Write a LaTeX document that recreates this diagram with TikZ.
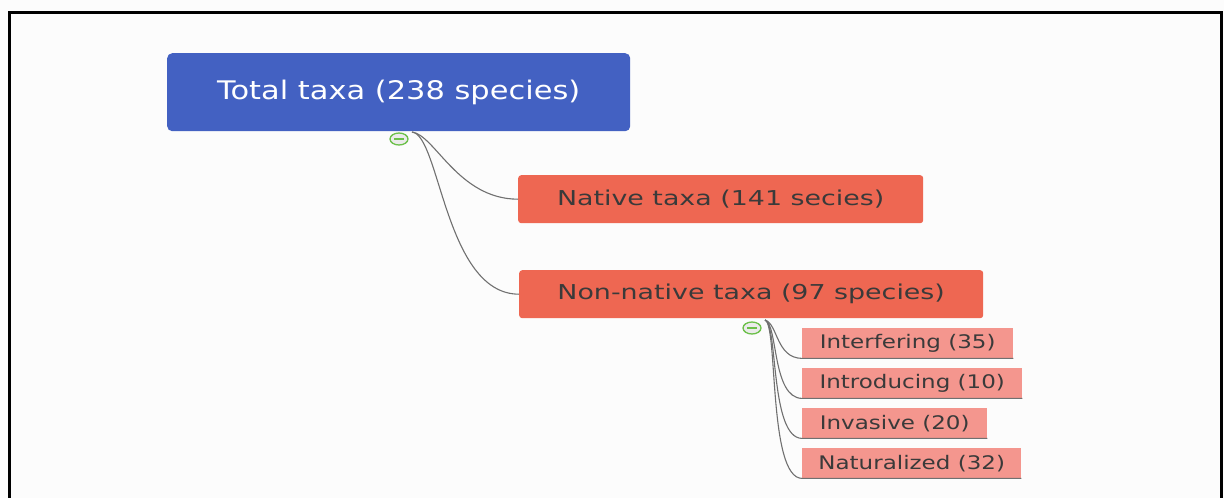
\documentclass[tikz,border=0pt]{standalone}
\usepackage{fontspec}
\setmainfont{DejaVu Sans}
\newfontfamily\rootfont[FakeStretch=1.19]{DejaVu Sans}
\newfontfamily\midfont[FakeStretch=1.31]{DejaVu Sans}
\newfontfamily\leaffont[FakeStretch=1.23]{DejaVu Sans}
\usetikzlibrary{shapes.geometric}
\definecolor{rootblue}{HTML}{4361C2}
\definecolor{midred}{HTML}{EE6752}
\definecolor{leafred}{HTML}{F4968E}
\definecolor{txtgray}{HTML}{3A3A3A}
\definecolor{linegray}{HTML}{707070}
\definecolor{mingreen}{HTML}{6CC04A}
\tikzset{
  rootbox/.style={fill=rootblue, rounded corners=5pt, text=white, font=\rootfont\fontsize{25.6}{30}\selectfont, minimum width=463pt, minimum height=78pt, inner sep=0pt},
  midbox/.style={fill=midred, rounded corners=3pt, text=txtgray, font=\midfont\fontsize{20.5}{25}\selectfont, minimum height=48pt, inner sep=0pt},
  leafbox/.style={fill=leafred, text=txtgray, font=\leaffont\fontsize{18.7}{22}\selectfont, minimum height=30pt, inner sep=0pt},
  conn/.style={draw=linegray, line width=1.1pt},
  minusicon/.style={ellipse, draw=mingreen, fill=black!8, line width=1.3pt, minimum width=18pt, minimum height=12pt, inner sep=0pt},
}
\begin{document}
\begin{tikzpicture}[x=1pt,y=-1pt]
\useasboundingbox (0,0) rectangle (1224,498);
\fill[white!99!black] (0,0) rectangle (1224,498);
\draw[line width=3pt, black] (9,505) -- (9,12) -- (1221,12) -- (1221,505);

\node[rootbox, anchor=north west] (root) at (167,53) {Total taxa (238 species)};
\node[midbox, anchor=north west, minimum width=405pt] (native) at (518,175) {Native taxa (141 secies)};
\node[midbox, anchor=north west, minimum width=464pt] (nonnative) at (519,270) {Non-native taxa (97 species)};

\node[leafbox, anchor=north west, minimum width=211pt] (l1) at (802,328) {Interfering (35)};
\node[leafbox, anchor=north west, minimum width=220pt] (l2) at (802,368) {Introducing (10)};
\node[leafbox, anchor=north west, minimum width=185pt] (l3) at (802,408) {Invasive (20)};
\node[leafbox, anchor=north west, minimum width=219pt] (l4) at (802,448) {Naturalized (32)};

\coordinate (rs) at (412,132);
\coordinate (ns) at (765,320);

\draw[conn] (rs) .. controls (435,135) and (458,199) .. (native.west);
\draw[conn] (rs) .. controls (440,135) and (445,294) .. (nonnative.west);

\draw[conn] (ns) .. controls (778,324) and (776,358) .. (l1.south west) -- (l1.south east);
\draw[conn] (ns) .. controls (778,324) and (772,398) .. (l2.south west) -- (l2.south east);
\draw[conn] (ns) .. controls (778,324) and (770,438) .. (l3.south west) -- (l3.south east);
\draw[conn] (ns) .. controls (778,324) and (768,478) .. (l4.south west) -- (l4.south east);

\node[minusicon] (m1) at (399,139) {};
\draw[mingreen, line width=1.3pt] ([xshift=-5pt]m1.center) -- ([xshift=5pt]m1.center);
\node[minusicon] (m2) at (752,328) {};
\draw[mingreen, line width=1.3pt] ([xshift=-5pt]m2.center) -- ([xshift=5pt]m2.center);
\end{tikzpicture}
\end{document}
